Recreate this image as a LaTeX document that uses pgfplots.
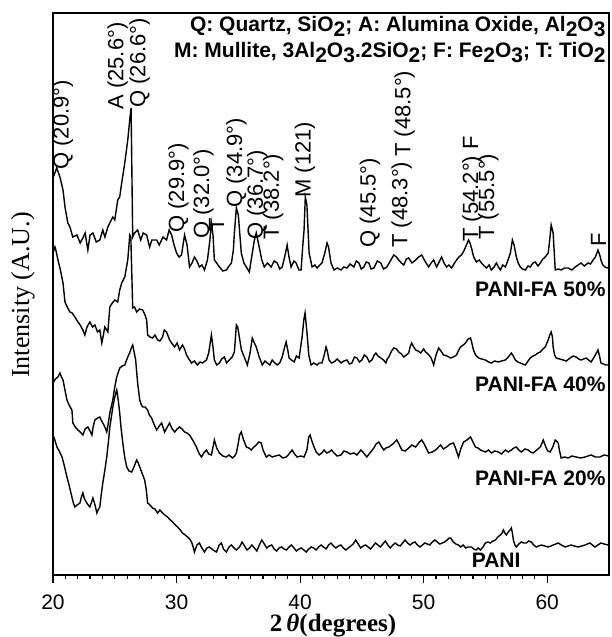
\documentclass[border=0pt]{standalone}
\usepackage{fontspec}
\setmainfont{Liberation Serif}
\newfontfamily\arial{Liberation Sans}
\usepackage{pgfplots}
\pgfplotsset{compat=1.18}
\newcommand\sub[1]{\raisebox{-0.4ex}{#1}}
\tikzset{ann/.style={font=\arial\fontsize{11}{12}\selectfont,rotate=90,anchor=west,inner sep=0pt},
  lab/.style={font=\arial\bfseries\fontsize{10.5}{12}\selectfont,inner sep=0pt}}
\begin{document}
\begin{tikzpicture}
\begin{axis}[at={(26.5pt,31pt)},anchor=south west,
  scale only axis,width=278pt,height=281pt,
  xmin=20,xmax=65,ymin=0,ymax=562,
  xtick={20,30,40,50,60},minor x tick num=9,ytick=\empty,
  xtick pos=left,tick align=outside,
  major tick length=4pt,minor tick length=2pt,
  axis line style={line width=0.8pt},
  tick style={line width=0.6pt,black},
  /pgf/number format/assume math mode=true,
  xticklabel style={font=\arial\fontsize{10.5}{12}\selectfont,anchor=base,yshift=-13pt},
  clip=false]
% PANI-FA 50%
\addplot[black,line width=0.7pt] coordinates {(20.0,397) (20.3,407) (20.56,398) (20.81,385) (20.97,368) (21.2,352) (21.37,348) (21.6,338) (21.94,340) (22.2,332) (22.42,337) (22.6,342) (22.82,325) (23.0,340) (23.23,342) (23.5,333) (23.79,335) (24.03,345) (24.2,338) (24.44,348) (24.6,352) (24.84,358) (25.0,355) (25.24,375) (25.4,378) (25.56,392) (25.81,412) (26.05,435) (26.21,455) (26.32,467) (26.45,338) (26.6,342) (26.85,345) (27.1,335) (27.3,342) (27.58,340) (27.82,328) (28.0,335) (28.39,335) (28.6,330) (28.9,338) (29.19,335) (29.4,345) (29.60,340) (29.8,330) (30.0,322) (30.2,318) (30.40,320) (30.65,340) (30.85,330) (31.05,308) (31.25,312) (31.45,318) (31.65,314) (31.85,308) (32.05,310) (32.26,305) (32.50,315) (32.7,335) (32.82,352) (32.95,340) (33.06,315) (33.25,312) (33.47,308) (33.75,304) (34.03,305) (34.25,309) (34.44,312) (34.6,325) (34.68,342) (34.84,367) (35.0,360) (35.24,322) (35.45,312) (35.65,308) (35.89,303) (36.13,322) (36.3,335) (36.45,342) (36.69,328) (36.9,315) (37.10,308) (37.35,312) (37.66,308) (37.9,314) (38.15,312) (38.35,306) (38.55,308) (38.75,318) (38.95,330) (39.1,318) (39.27,308) (39.5,314) (39.68,312) (39.9,305) (40.08,305) (40.22,330) (40.32,345) (40.42,378) (40.55,370) (40.73,322) (40.97,308) (41.2,310) (41.37,307) (41.6,310) (41.77,312) (42.0,322) (42.18,332) (42.3,328) (42.50,312) (42.74,305) (43.0,307) (43.31,305) (43.55,308) (43.79,307) (44.05,311) (44.35,308) (44.55,314) (44.76,312) (44.95,306) (45.16,308) (45.35,313) (45.56,312) (45.75,306) (45.97,307) (46.25,314) (46.53,312) (46.75,306) (47.02,308) (47.3,314) (47.58,320) (47.8,318) (47.98,315) (48.2,312) (48.39,310) (48.6,316) (48.79,317) (49.05,312) (49.35,315) (49.6,318) (49.84,320) (50.1,314) (50.40,308) (50.6,312) (50.81,315) (51.05,308) (51.25,313) (51.45,318) (51.65,312) (51.85,308) (52.05,310) (52.26,307) (52.45,311) (52.66,315) (52.85,318) (53.06,320) (53.25,324) (53.39,328) (53.63,335) (53.75,332) (53.87,327) (54.05,318) (54.27,313) (54.5,315) (54.68,312) (54.9,309) (55.08,307) (55.3,310) (55.48,305) (55.7,308) (55.89,312) (56.05,308) (56.21,305) (56.4,310) (56.61,308) (56.8,314) (57.02,322) (57.18,335) (57.32,330) (57.50,318) (57.65,312) (57.82,308) (58.0,306) (58.23,305) (58.45,309) (58.63,308) (58.85,312) (59.03,313) (59.25,309) (59.44,312) (59.65,316) (59.84,318) (60.08,322) (60.2,335) (60.32,350) (60.48,342) (60.58,320) (60.65,305) (60.9,306) (61.13,305) (61.4,307) (61.69,307) (62.0,305) (62.26,308) (62.5,310) (62.74,312) (63.0,309) (63.31,312) (63.5,311) (63.71,315) (63.9,318) (64.11,325) (64.25,320) (64.35,315) (64.5,310) (64.68,308) (64.85,307) (65.0,308)};
% PANI-FA 40%
\addplot[black,line width=0.7pt] coordinates {(20.0,322) (20.16,328) (20.25,324) (20.40,315) (20.6,305) (20.81,292) (20.97,273) (21.15,268) (21.37,263) (21.55,262) (21.77,258) (22.02,253) (22.2,250) (22.42,245) (22.58,240) (22.75,248) (22.98,253) (23.2,248) (23.39,250) (23.6,243) (23.79,245) (23.95,232) (24.05,238) (24.19,248) (24.3,246) (24.44,243) (24.60,268) (24.8,272) (25.00,275) (25.24,273) (25.4,285) (25.56,292) (25.81,298) (26.05,315) (26.15,330) (26.21,340) (26.30,338) (26.45,267) (26.6,268) (26.77,263) (27.0,266) (27.26,265) (27.45,260) (27.58,255) (27.66,240) (27.85,238) (28.06,237) (28.25,240) (28.47,235) (28.65,234) (28.87,238) (29.0,245) (29.19,243) (29.44,235) (29.6,232) (29.84,228) (30.05,232) (30.24,225) (30.48,230) (30.65,226) (30.81,220) (31.0,216) (31.21,212) (31.45,214) (31.69,210) (31.9,213) (32.10,212) (32.42,215) (32.6,222) (32.82,240) (32.95,228) (33.06,215) (33.25,210) (33.47,212) (33.65,216) (33.87,218) (34.05,212) (34.27,215) (34.5,218) (34.68,223) (34.84,250) (34.95,248) (35.08,238) (35.25,225) (35.48,218) (35.73,210) (35.95,222) (36.13,237) (36.3,232) (36.45,228) (36.69,218) (36.94,210) (37.15,214) (37.34,212) (37.55,210) (37.74,215) (37.95,212) (38.15,210) (38.35,212) (38.55,218) (38.75,228) (38.87,233) (39.0,225) (39.11,217) (39.3,215) (39.52,213) (39.7,219) (39.92,217) (40.16,238) (40.3,255) (40.40,262) (40.56,242) (40.7,220) (40.89,210) (41.1,212) (41.37,210) (41.55,212) (41.77,212) (41.95,220) (42.10,228) (42.2,224) (42.34,215) (42.55,212) (42.74,213) (43.0,216) (43.31,212) (43.55,214) (43.79,215) (44.0,211) (44.19,212) (44.4,218) (44.60,217) (44.8,213) (45.00,215) (45.2,220) (45.40,218) (45.6,213) (45.81,215) (46.0,220) (46.13,222) (46.3,219) (46.53,217) (46.75,215) (46.94,212) (47.05,216) (47.18,218) (47.4,224) (47.58,227) (47.8,226) (47.98,223) (48.2,221) (48.39,218) (48.6,220) (48.79,222) (48.9,228) (49.03,232) (49.2,228) (49.35,225) (49.55,224) (49.76,222) (50.0,226) (50.16,223) (50.35,221) (50.56,218) (50.7,214) (50.81,210) (51.0,220) (51.21,227) (51.4,224) (51.61,220) (51.9,219) (52.18,217) (52.4,218) (52.66,220) (52.8,224) (52.98,228) (53.2,230) (53.39,232) (53.6,236) (53.79,237) (53.9,232) (54.03,225) (54.2,220) (54.44,217) (54.7,216) (55.00,215) (55.25,213) (55.48,212) (55.75,214) (56.05,213) (56.3,214) (56.61,215) (56.85,218) (57.10,222) (57.25,219) (57.42,215) (57.62,213) (57.82,212) (58.0,211) (58.23,210) (58.45,214) (58.63,217) (58.85,219) (59.03,220) (59.25,222) (59.44,223) (59.65,226) (59.84,228) (60.08,235) (60.2,240) (60.32,243) (60.42,238) (60.48,228) (60.6,220) (60.73,217) (61.0,216) (61.29,215) (61.55,214) (61.85,217) (62.1,219) (62.34,218) (62.55,216) (62.74,215) (62.95,216) (63.15,217) (63.35,215) (63.55,213) (63.8,218) (64.11,225) (64.25,218) (64.35,212) (64.55,211) (64.76,210) (65.0,210)};
% PANI-FA 20%
\addplot[black,line width=0.7pt] coordinates {(20.0,192) (20.2,196) (20.4,198) (20.56,202) (20.65,199) (20.81,195) (21.0,183) (21.13,175) (21.3,170) (21.53,165) (21.61,152) (21.8,148) (22.02,145) (22.2,143) (22.42,140) (22.6,146) (22.82,148) (23.0,144) (23.15,140) (23.25,148) (23.39,155) (23.6,157) (23.79,158) (23.9,155) (24.03,152) (24.2,148) (24.35,143) (24.45,150) (24.60,162) (24.84,175) (25.0,188) (25.16,198) (25.40,207) (25.6,209) (25.81,210) (26.05,218) (26.2,222) (26.37,228) (26.45,230) (26.55,224) (26.69,215) (26.85,192) (27.02,175) (27.15,170) (27.26,168) (27.45,168) (27.66,165) (27.8,160) (27.98,157) (28.2,150) (28.39,145) (28.6,149) (28.79,152) (28.9,148) (29.03,143) (29.25,148) (29.44,152) (29.6,147) (29.84,143) (30.05,146) (30.24,148) (30.45,146) (30.65,143) (30.85,142) (31.05,140) (31.3,135) (31.61,128) (31.8,122) (32.02,118) (32.2,122) (32.42,125) (32.6,121) (32.82,120) (32.95,128) (33.06,135) (33.25,127) (33.47,122) (33.75,119) (34.03,118) (34.25,120) (34.52,117) (34.7,119) (34.84,122) (35.0,132) (35.1,140) (35.24,143) (35.4,136) (35.65,128) (35.85,127) (36.05,125) (36.25,128) (36.45,130) (36.65,133) (36.85,132) (37.0,125) (37.26,118) (37.5,120) (37.74,118) (38.0,119) (38.31,120) (38.6,117) (38.87,118) (39.1,121) (39.35,125) (39.55,121) (39.76,118) (40.05,119) (40.32,118) (40.55,125) (40.7,138) (40.81,140) (40.95,134) (41.13,128) (41.3,123) (41.53,120) (41.75,122) (41.94,125) (42.15,122) (42.34,123) (42.55,125) (42.74,122) (43.0,119) (43.31,120) (43.55,124) (43.79,123) (44.05,121) (44.35,122) (44.6,120) (44.92,125) (45.15,122) (45.40,118) (45.65,122) (45.97,127) (46.15,131) (46.37,133) (46.55,129) (46.77,125) (46.95,127) (47.18,128) (47.5,131) (47.82,135) (48.0,131) (48.23,125) (48.5,124) (48.79,127) (49.05,130) (49.35,128) (49.6,132) (49.84,135) (50.0,132) (50.2,127) (50.40,122) (50.7,123) (50.97,125) (51.2,128) (51.37,130) (51.6,126) (51.85,128) (52.15,131) (52.42,132) (52.6,126) (52.82,118) (53.0,126) (53.23,133) (53.5,135) (53.79,138) (53.95,134) (54.19,128) (54.4,127) (54.60,125) (54.8,124) (55.00,123) (55.25,125) (55.48,122) (55.75,124) (56.05,123) (56.3,121) (56.61,125) (56.85,123) (57.10,125) (57.3,127) (57.50,128) (57.7,125) (57.90,123) (58.2,126) (58.47,125) (58.65,123) (58.87,122) (59.15,125) (59.44,128) (59.55,131) (59.68,135) (59.8,131) (59.92,127) (60.05,124) (60.24,123) (60.45,128) (60.65,135) (60.75,134) (60.89,132) (61.0,124) (61.13,117) (61.4,118) (61.69,117) (62.0,119) (62.34,118) (62.7,117) (63.06,118) (63.3,119) (63.55,120) (63.9,118) (64.27,118) (64.6,120) (65.0,119)};
% PANI
\addplot[black,line width=0.7pt] coordinates {(20.0,140) (20.15,135) (20.32,128) (20.5,124) (20.73,118) (20.9,110) (21.13,98) (21.3,90) (21.53,78) (21.65,72) (21.77,68) (21.95,70) (22.18,72) (22.3,78) (22.42,82) (22.55,76) (22.74,72) (22.85,70) (22.98,68) (23.1,72) (23.23,77) (23.4,70) (23.55,62) (23.65,65) (23.79,68) (23.9,80) (24.03,92) (24.2,105) (24.35,118) (24.5,135) (24.60,148) (24.75,160) (24.84,168) (25.0,178) (25.16,185) (25.28,175) (25.40,162) (25.5,148) (25.65,132) (25.8,118) (25.97,108) (26.15,104) (26.37,103) (26.55,108) (26.77,115) (26.9,112) (27.02,108) (27.2,102) (27.42,95) (27.55,85) (27.66,72) (27.85,70) (28.06,67) (28.25,66) (28.47,62) (28.65,65) (28.87,62) (29.05,60) (29.27,58) (29.5,55) (29.68,53) (29.9,50) (30.08,48) (30.3,45) (30.48,42) (30.7,40) (30.89,38) (31.05,36) (31.21,33) (31.35,28) (31.45,23) (31.65,30) (31.85,32) (32.05,27) (32.26,23) (32.45,27) (32.66,28) (32.95,25) (33.23,23) (33.45,30) (33.63,32) (33.8,26) (34.03,23) (34.25,28) (34.44,30) (34.65,27) (34.84,25) (35.1,28) (35.3,33) (35.5,29) (35.7,25) (35.9,27) (36.1,30) (36.3,27) (36.5,24) (36.7,30) (36.9,35) (37.1,31) (37.3,27) (37.5,29) (37.7,30) (37.9,26) (38.1,24) (38.3,27) (38.5,28) (38.7,26) (38.9,25) (39.1,28) (39.3,30) (39.5,27) (39.7,24) (39.9,26) (40.1,27) (40.3,25) (40.5,23) (40.7,26) (40.9,28) (41.1,27) (41.3,25) (41.5,28) (41.7,30) (41.9,28) (42.1,26) (42.3,30) (42.5,32) (42.7,29) (42.9,27) (43.1,29) (43.3,30) (43.5,27) (43.7,25) (43.9,27) (44.1,29) (44.3,31) (44.5,35) (44.7,31) (44.9,27) (45.1,29) (45.3,30) (45.5,28) (45.7,26) (45.9,29) (46.1,32) (46.3,30) (46.5,28) (46.7,31) (46.9,34) (47.1,30) (47.3,27) (47.5,30) (47.7,32) (47.9,30) (48.1,29) (48.3,32) (48.5,35) (48.7,32) (48.9,30) (49.1,32) (49.3,33) (49.5,30) (49.7,28) (49.9,30) (50.1,32) (50.3,31) (50.5,30) (50.7,33) (50.9,35) (51.1,33) (51.3,31) (51.5,32) (51.7,33) (51.9,35) (52.05,37) (52.18,37) (52.4,33) (52.6,31) (52.82,30) (53.0,28) (53.2,30) (53.4,27) (53.6,28) (53.87,28) (54.05,26) (54.25,25) (54.4,27) (54.60,25) (54.8,28) (55.00,32) (55.2,33) (55.40,32) (55.6,34) (55.81,35) (56.0,38) (56.21,40) (56.35,42) (56.45,45) (56.57,42) (56.69,40) (56.85,43) (57.0,45) (57.10,47) (57.18,42) (57.26,35) (57.38,30) (57.50,28) (57.7,31) (57.90,33) (58.1,32) (58.31,32) (58.5,34) (58.71,33) (58.9,30) (59.11,28) (59.3,29) (59.52,30) (59.8,29) (60.08,28) (60.3,29) (60.48,30) (60.7,31) (60.89,32) (61.15,30) (61.45,28) (61.7,29) (61.94,30) (62.2,29) (62.50,28) (62.8,29) (63.06,30) (63.25,31) (63.47,32) (63.65,30) (63.87,28) (64.1,30) (64.35,32) (64.6,31) (64.92,30) (65.0,30)};
% peak assignments
\node[ann] at (axis cs:20.81,405) {Q (20.9°)};
\node[ann] at (axis cs:25.24,465) {A (25.6°)};
\node[ann] at (axis cs:27.02,467) {Q (26.6°)};
\node[ann] at (axis cs:30.16,342) {Q (29.9°)};
\node[ann] at (axis cs:32.18,336) {Q (32.0°)};
\node[ann] at (axis cs:33.23,343) {T};
\node[ann] at (axis cs:34.84,367) {Q (34.9°)};
\node[ann] at (axis cs:36.53,335) {Q (36.7°)};
\node[ann] at (axis cs:37.82,335) {T (38.2°)};
\node[ann] at (axis cs:40.40,377) {M (121)};
\node[ann] at (axis cs:45.65,327) {Q (45.5°)};
\node[ann] at (axis cs:48.23,327) {T (48.3°)};
\node[ann] at (axis cs:48.47,418) {T (48.5°)};
\node[ann] at (axis cs:53.95,333) {T (54.2°) F};
\node[ann] at (axis cs:55.24,335) {T (55.5°)};
\node[ann] at (axis cs:64.15,328) {F};
% phase key
\node[lab,anchor=base east] at (axis cs:64.75,543) {Q: Quartz, SiO\sub{2}; A: Alumina Oxide, Al\sub{2}O\sub{3}};
\node[lab,anchor=base east] at (axis cs:64.75,517) {M: Mullite, 3Al\sub{2}O\sub{3}.2SiO\sub{2}; F: Fe\sub{2}O\sub{3}; T: TiO\sub{2}};
% sample names
\node[lab,anchor=base east] at (axis cs:64.75,278) {PANI-FA 50\%};
\node[lab,anchor=base east] at (axis cs:64.75,183) {PANI-FA 40\%};
\node[lab,anchor=base east] at (axis cs:64.75,90) {PANI-FA 20\%};
\node[lab,anchor=base west] at (axis cs:53.87,8) {PANI};
\end{axis}
\node[font=\fontsize{13}{15}\selectfont,rotate=90] at (11.5pt,171pt) {Intensity (A.U.)};
\node[font=\bfseries\fontsize{12.5}{14}\selectfont,anchor=base] at (166.5pt,2.5pt) {2\,\textit{θ}(degrees)};
\pgfresetboundingbox
\path[use as bounding box] (0,0) rectangle (305.5pt,318.5pt);
\end{tikzpicture}
\end{document}
